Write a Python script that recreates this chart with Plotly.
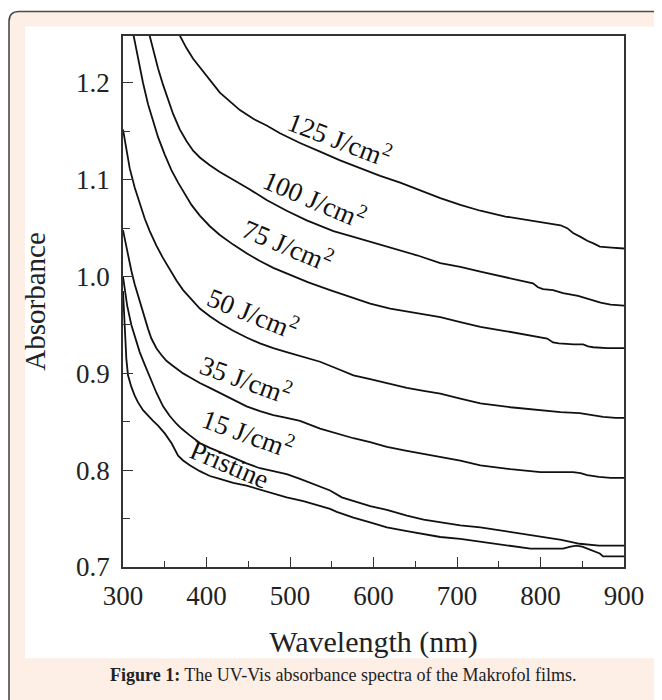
import plotly.graph_objects as go

# ---------------- data ----------------
wl_125 = [360, 368, 376, 384, 392, 404, 416, 428, 440, 456, 472, 488, 512, 536, 560, 584, 608, 632, 656, 680,
          704, 728, 758, 788, 810, 824, 832, 839, 848, 856, 864, 871, 885, 900]
ab_125 = [1.262, 1.249, 1.236, 1.225, 1.216, 1.203, 1.190, 1.181, 1.172, 1.163, 1.156, 1.148, 1.138, 1.129, 1.120,
          1.112, 1.104, 1.097, 1.089, 1.081, 1.074, 1.068, 1.062, 1.058, 1.055, 1.053, 1.050, 1.045, 1.041, 1.037,
          1.034, 1.031, 1.030, 1.029]

wl_100 = [328, 332, 336, 342, 348, 354, 360, 368, 376, 384, 392, 404, 416, 432, 452, 472, 496, 520, 552, 576,
          600, 624, 652, 680, 704, 728, 760, 791, 797, 803, 815, 827, 845, 860, 872, 884, 900]
ab_100 = [1.262, 1.248, 1.234, 1.215, 1.198, 1.182, 1.168, 1.152, 1.140, 1.130, 1.123, 1.115, 1.108, 1.100, 1.090,
          1.079, 1.068, 1.058, 1.047, 1.041, 1.035, 1.029, 1.022, 1.014, 1.010, 1.005, 0.999, 0.993, 0.989, 0.987,
          0.986, 0.983, 0.980, 0.976, 0.973, 0.971, 0.970]

wl_75 = [309, 313, 318, 324, 330, 336, 342, 350, 358, 366, 374, 382, 392, 404, 416, 432, 448, 464, 480, 496,
         522, 548, 572, 596, 620, 640, 660, 680, 704, 728, 756, 784, 808, 815, 822, 840, 851, 857, 863, 880, 900]
ab_75 = [1.265, 1.248, 1.225, 1.200, 1.178, 1.160, 1.144, 1.126, 1.110, 1.097, 1.085, 1.074, 1.063, 1.052, 1.043,
         1.033, 1.024, 1.016, 1.009, 1.003, 0.994, 0.986, 0.979, 0.972, 0.967, 0.964, 0.961, 0.958, 0.953, 0.948,
         0.944, 0.940, 0.936, 0.932, 0.931, 0.930, 0.930, 0.928, 0.927, 0.926, 0.926]

wl_50 = [300, 304, 308, 314, 320, 326, 332, 340, 348, 356, 364, 372, 380, 392, 404, 416, 432, 448, 464, 480,
         496, 516, 536, 556, 576, 596, 616, 640, 660, 680, 704, 728, 764, 800, 824, 847, 862, 875, 890, 900]
ab_50 = [1.152, 1.130, 1.112, 1.092, 1.075, 1.060, 1.047, 1.032, 1.019, 1.007, 0.996, 0.986, 0.978, 0.967, 0.959,
         0.952, 0.944, 0.937, 0.931, 0.926, 0.922, 0.917, 0.912, 0.905, 0.898, 0.894, 0.890, 0.885, 0.882, 0.879,
         0.874, 0.869, 0.865, 0.862, 0.860, 0.859, 0.857, 0.855, 0.854, 0.854]

wl_35 = [300, 303, 306, 310, 314, 318, 322, 326, 330, 334, 340, 346, 352, 358, 364, 372, 380, 392, 404, 416,
         432, 448, 464, 480, 496, 512, 536, 556, 576, 596, 616, 640, 660, 680, 704, 728, 764, 800, 839, 848,
         856, 870, 884, 900]
ab_35 = [1.048, 1.035, 1.022, 1.006, 0.992, 0.980, 0.968, 0.957, 0.946, 0.936, 0.926, 0.919, 0.913, 0.909, 0.905,
         0.900, 0.896, 0.890, 0.885, 0.880, 0.873, 0.866, 0.861, 0.857, 0.854, 0.851, 0.843, 0.838, 0.833, 0.829,
         0.824, 0.820, 0.817, 0.814, 0.810, 0.805, 0.801, 0.798, 0.798, 0.797, 0.795, 0.793, 0.792, 0.792]

wl_15 = [300, 302, 305, 310, 315, 320, 326, 332, 340, 348, 356, 364, 370, 380, 392, 404, 416, 432, 448, 464,
         480, 496, 512, 530, 548, 562, 576, 596, 616, 640, 660, 680, 704, 728, 764, 800, 825, 847, 870, 900]
ab_15 = [1.000, 0.988, 0.970, 0.950, 0.935, 0.922, 0.909, 0.896, 0.880, 0.866, 0.856, 0.848, 0.843, 0.836, 0.828,
         0.823, 0.819, 0.813, 0.807, 0.802, 0.799, 0.796, 0.791, 0.785, 0.779, 0.772, 0.768, 0.763, 0.759, 0.753,
         0.749, 0.746, 0.743, 0.741, 0.736, 0.731, 0.728, 0.724, 0.722, 0.722]

wl_pr = [300, 302, 304, 306, 310, 314, 318, 324, 330, 336, 342, 350, 358, 366, 372, 380, 392, 404, 416, 432,
         448, 464, 480, 496, 516, 536, 548, 556, 576, 596, 616, 640, 660, 680, 704, 728, 758, 788, 810, 827,
         836, 843, 850, 856, 864, 871, 875, 885, 900]
ab_pr = [0.985, 0.950, 0.915, 0.898, 0.886, 0.877, 0.870, 0.862, 0.856, 0.851, 0.846, 0.838, 0.828, 0.815, 0.810,
         0.805, 0.799, 0.794, 0.791, 0.787, 0.784, 0.780, 0.776, 0.772, 0.768, 0.763, 0.760, 0.757, 0.751, 0.746,
         0.741, 0.737, 0.734, 0.731, 0.729, 0.726, 0.722, 0.719, 0.719, 0.719, 0.721, 0.722, 0.721, 0.719, 0.716,
         0.714, 0.711, 0.711, 0.711]

series_names = ["125 J/cm²", "100 J/cm²", "75 J/cm²", "50 J/cm²", "35 J/cm²", "15 J/cm²", "Pristine"]
series_x = [wl_125, wl_100, wl_75, wl_50, wl_35, wl_15, wl_pr]
series_y = [ab_125, ab_100, ab_75, ab_50, ab_35, ab_15, ab_pr]

label_text = ["125 J/cm<sup>2</sup>", "100 J/cm<sup>2</sup>", "75 J/cm<sup>2</sup>", "50 J/cm<sup>2</sup>",
              "35 J/cm<sup>2</sup>", "15 J/cm<sup>2</sup>", "Pristine"]
label_x = [560, 530, 498, 456, 447, 450, 428]
label_y = [1.143, 1.081, 1.034, 0.963, 0.895, 0.839, 0.805]
label_angle = [21, 23, 23, 22, 20, 20, 23]

x_ticks = [300, 400, 500, 600, 700, 800, 900]
y_ticks = [0.7, 0.8, 0.9, 1.0, 1.1, 1.2]
y_tick_labels = ["0.7", "0.8", "0.9", "1.0", "1.1", "1.2"]

# ---------------- layout geometry ----------------
# The page body has an 8px margin, so the figure is drawn 8px in from the top-left corner.
OFF = 8
W, H = 662 - OFF, 700 - OFF
PL, PR, PT, PB = 123 - OFF, 624 - OFF, 35.5 - OFF, 566.7 - OFF   # plot area edges in figure px


def px(page_x):
    return (page_x - OFF - PL) / (PR - PL)


def py(page_y):
    return (PB - (page_y - OFF)) / (PB - PT)


SERIF = "Liberation Serif, Times New Roman, serif"

fig = go.Figure()
for name, xs, ys in zip(series_names, series_x, series_y):
    fig.add_trace(go.Scatter(x=xs, y=ys, mode="lines", name=name,
                             line=dict(color="#111111", width=1.8), showlegend=False))

for t, lx, ly, ang in zip(label_text, label_x, label_y, label_angle):
    fig.add_annotation(x=lx, y=ly, text=t, textangle=ang, showarrow=False,
                       font=dict(family=SERIF, size=27, color="#111111"))

# caption
fig.add_annotation(xref="paper", yref="paper", x=px(343), y=py(687),
                   text="<b>Figure 1:</b> The UV-Vis absorbance spectra of the Makrofol films.",
                   showarrow=False, font=dict(family=SERIF, size=18, color="#222222"))

shapes = [
    # peach frame with rounded top-left corner
    dict(type="path", xref="paper", yref="paper",
         path=(f"M {px(9)},{py(760)} L {px(9)},{py(21)} Q {px(9)},{py(11)} {px(19)},{py(11)} "
               f"L {px(720)},{py(11)} L {px(720)},{py(760)} Z"),
         fillcolor="#fdeee6", line=dict(color="#4a4a4a", width=1.6), layer="below"),
    # white panel
    dict(type="rect", xref="paper", yref="paper", x0=px(25), x1=px(654), y0=py(658), y1=py(26),
         fillcolor="white", line=dict(width=0), layer="below"),
]

fig.update_layout(
    width=W, height=H,
    margin=dict(l=PL, r=W - PR, t=PT, b=H - PB, autoexpand=False),
    paper_bgcolor="white",
    plot_bgcolor="white",
    shapes=shapes,
    font=dict(family=SERIF, color="#222222"),
)

fig.update_xaxes(range=[300, 900], tickvals=x_ticks, ticks="inside", ticklen=10, tickwidth=1.3,
                 tickcolor="#333", showline=True, linecolor="#333", linewidth=1.5, mirror=True,
                 showgrid=False, zeroline=False, tickfont=dict(family=SERIF, size=27, color="#222"),
                 ticklabelstandoff=4,
                 minor=dict(dtick=50, ticks="inside", ticklen=6, tickwidth=1.2, tickcolor="#333"),
                 title=dict(text="Wavelength (nm)", font=dict(family=SERIF, size=30, color="#222"), standoff=21))
fig.update_yaxes(range=[0.7, 1.2485], tickvals=y_ticks, ticktext=y_tick_labels, ticks="inside", ticklen=10,
                 tickwidth=1.3, tickcolor="#333", showline=True, linecolor="#333", linewidth=1.5, mirror=True,
                 showgrid=False, zeroline=False, tickfont=dict(family=SERIF, size=27, color="#222"),
                 ticklabelstandoff=6,
                 minor=dict(dtick=0.05, ticks="inside", ticklen=7, tickwidth=1.2, tickcolor="#333"),
                 title=dict(text="Absorbance", font=dict(family=SERIF, size=29, color="#222"), standoff=22))

fig.write_html("out.html")
